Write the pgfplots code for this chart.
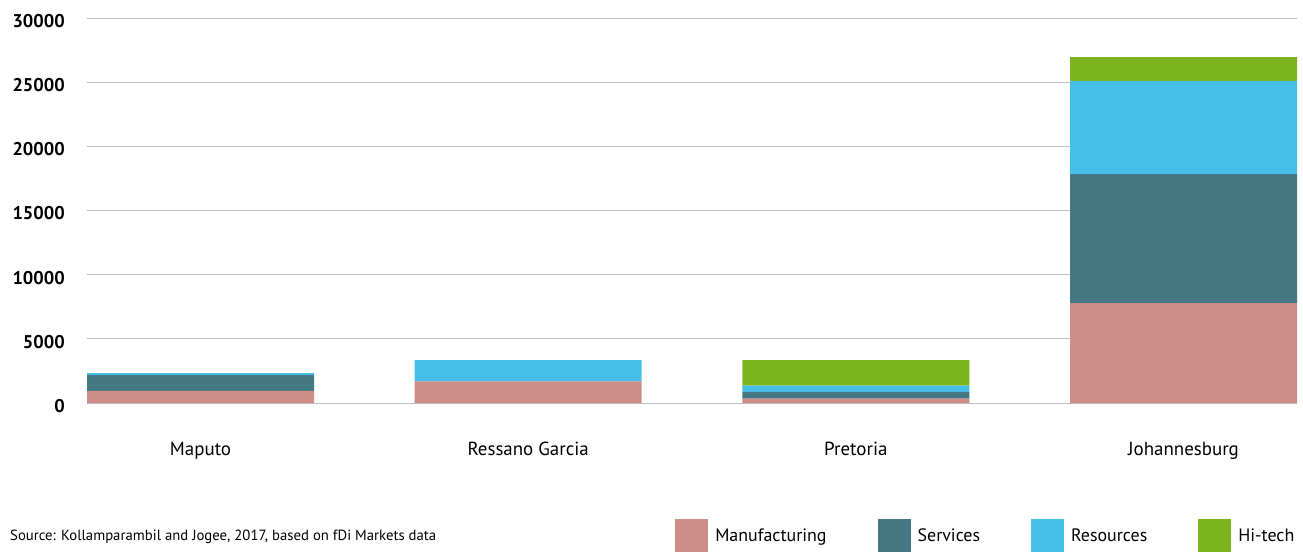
\documentclass[border=0pt]{standalone}
\usepackage{pgfplots}
\pgfplotsset{compat=1.18}
\usepackage{fontspec}
\setmainfont{PT Sans}
\definecolor{manu}{HTML}{CD8E88}
\definecolor{serv}{HTML}{457882}
\definecolor{reso}{HTML}{45BFE9}
\definecolor{hitech}{HTML}{7BB41E}
\begin{document}
\begin{tikzpicture}
\pgfplotsset{leg/.style={legend image code/.code={\fill[##1] (0bp,-16.5bp) rectangle (33bp,16.5bp);}}}
\begin{axis}[
  scale only axis,
  width=1210bp, height=385bp,
  ybar stacked, bar width=227bp,
  xmin=-0.3466, xmax=3.3466,
  ymin=0, ymax=30000,
  ytick={0,5000,...,30000},
  xtick={0,1,2,3},
  xticklabels={Maputo,Ressano Garcia,Pretoria,Johannesburg},
  axis line style={draw=none},
  tick style={draw=none},
  ymajorgrids,
  major grid style={draw=black!25, line width=0.8pt},
  extra y ticks={0}, extra y tick labels={},
  extra y tick style={grid style={draw=black!38, line width=1.2pt}},
  /pgf/number format/assume math mode=true,
  scaled y ticks=false,
  yticklabel style={font=\fontsize{18.5}{22}\selectfont\bfseries, anchor=east, inner sep=0pt, xshift=-22bp, yshift=-3bp, /pgf/number format/1000 sep={}},
  xticklabel style={font=\fontsize{19}{22}\selectfont, anchor=base, inner sep=0pt, yshift=-52bp},
  legend columns=-1,
  legend style={at={(axis description cs:0.486,-0.344)}, anchor=west, draw=none, fill=none, inner sep=0pt,
    font=\fontsize{18}{21}\selectfont,
    nodes={inner xsep=7bp, inner ysep=0pt},
    /tikz/every even column/.append style={column sep=44bp}},
]
\addplot[fill=manu, draw=none, leg] coordinates {(0,950) (1,1690) (2,350) (3,7790)};
\addplot[fill=serv, draw=none, leg] coordinates {(0,1230) (1,0) (2,510) (3,10040)};
\addplot[fill=reso, draw=none, leg] coordinates {(0,150) (1,1660) (2,490) (3,7250)};
\addplot[fill=hitech, draw=none, leg] coordinates {(0,0) (1,0) (2,2000) (3,1870)};
\legend{Manufacturing,Services,Resources,Hi-tech}
\end{axis}
\node[anchor=west, inner sep=0pt, font=\fontsize{14.8}{17}\selectfont] at (-77bp,-134bp) {Source: Kollamparambil and Jogee, 2017, based on fDi Markets data};
\path[use as bounding box] (-87bp,-144bp) rectangle (1216bp,403bp);
\end{tikzpicture}
\end{document}
